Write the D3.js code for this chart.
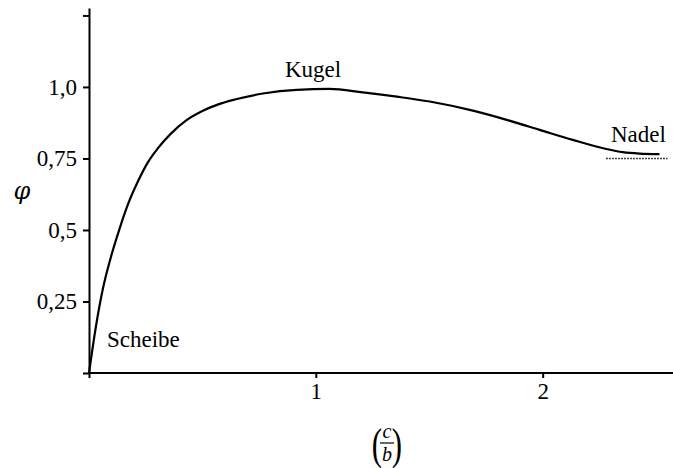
<!DOCTYPE html>
<html>
<head>
<meta charset="utf-8">
<script src="https://cdn.jsdelivr.net/npm/d3@7"></script>
<style>
  body { margin: 0; background: #fff; }
</style>
</head>
<body>
<div id="chart"></div>
<script>
// curve: phi against (c/b)
var ratio = [0, 0.03, 0.06, 0.1, 0.135, 0.172, 0.216, 0.26, 0.304, 0.36, 0.43, 0.5, 0.57, 0.643, 0.767, 0.916, 1.06, 1.207, 1.357, 1.502, 1.692, 1.841, 1.987, 2.132, 2.28, 2.353, 2.427, 2.515];
var phi = [0, 0.16, 0.29, 0.415, 0.505, 0.59, 0.67, 0.737, 0.786, 0.836, 0.884, 0.916, 0.939, 0.956, 0.977, 0.99, 0.993, 0.981, 0.966, 0.949, 0.917, 0.885, 0.85, 0.815, 0.783, 0.772, 0.767, 0.765];
var nadelLimit = [2.28, 2.55]; // dotted asymptote at 0.75
var nadelValue = 0.75;

var xTicks = [0, 1, 2];
var xTickLabels = ["", "1", "2"];
var yTicks = [0, 0.25, 0.5, 0.75, 1, 1.25];
var yTickLabels = ["", "0,25", "0,5", "0,75", "1,0", ""];

var width = 673, height = 468;
var font = "Liberation Serif";

var svg = d3.select("#chart").append("svg")
  .attr("width", width)
  .attr("height", height);

var x = d3.scaleLinear().domain([0, 2.57]).range([89, 672]);
var y = d3.scaleLinear().domain([0, 1.276]).range([373, 8]);

// axes
var xAxis = d3.axisBottom(x)
  .tickValues(xTicks)
  .tickSize(5)
  .tickPadding(5)
  .tickSizeOuter(0)
  .tickFormat(function(d, i) { return xTickLabels[i]; });

var yAxis = d3.axisLeft(y)
  .tickValues(yTicks)
  .tickSize(6)
  .tickPadding(6)
  .tickSizeOuter(0)
  .tickFormat(function(d, i) { return yTickLabels[i]; });

var gx = svg.append("g").attr("transform", "translate(0," + y(0) + ")").call(xAxis);
var gy = svg.append("g").attr("transform", "translate(" + x(0) + ",0)").call(yAxis);

[gx, gy].forEach(function(g) {
  g.attr("font-family", font);
  g.select(".domain").attr("stroke", "#000").attr("stroke-width", 2);
  g.selectAll(".tick line").attr("stroke", "#000").attr("stroke-width", 2);
  g.selectAll(".tick text")
    .attr("font-family", font)
    .attr("font-size", 23);
});
gx.select(".domain").attr("d", "M" + x(0) + ",0H" + width);

// curve
var line = d3.line()
  .curve(d3.curveMonotoneX)
  .x(function(d, i) { return x(ratio[i]); })
  .y(function(d, i) { return y(phi[i]); });

svg.append("path")
  .datum(phi)
  .attr("d", line)
  .attr("fill", "none")
  .attr("stroke", "#000")
  .attr("stroke-width", 2.2);

svg.append("line")
  .attr("x1", x(nadelLimit[0]))
  .attr("x2", x(nadelLimit[1]))
  .attr("y1", y(nadelValue))
  .attr("y2", y(nadelValue))
  .attr("stroke", "#000")
  .attr("stroke-width", 1.5)
  .attr("stroke-dasharray", "1.5,1.5");

// annotations
function label(px, py, txt) {
  svg.append("text").attr("x", px).attr("y", py)
    .attr("font-family", font).attr("font-size", 23).text(txt);
}
label(285, 77, "Kugel");
label(107, 347, "Scheibe");
label(611, 142, "Nadel");

// axis titles
svg.append("text")
  .attr("x", 22).attr("y", 199)
  .attr("text-anchor", "middle")
  .attr("font-family", "DejaVu Serif")
  .attr("font-size", 24)
  .attr("font-style", "italic")
  .text("\u03C6");

var xl = svg.append("g").attr("transform", "translate(387,0)");
xl.append("text").attr("x", -10).attr("y", 459).attr("text-anchor", "middle")
  .attr("font-family", font).attr("font-size", 44)
  .attr("transform", "translate(-10,459) scale(0.7,1) translate(10,-459)")
  .text("(");
xl.append("text").attr("x", 10).attr("y", 459).attr("text-anchor", "middle")
  .attr("font-family", font).attr("font-size", 44)
  .attr("transform", "translate(10,459) scale(0.7,1) translate(-10,-459)")
  .text(")");
xl.append("text").attr("x", 0).attr("y", 438).attr("text-anchor", "middle")
  .attr("font-family", font).attr("font-size", 20).attr("font-style", "italic").text("c");
xl.append("line").attr("x1", -7).attr("x2", 7).attr("y1", 443).attr("y2", 443)
  .attr("stroke", "#000").attr("stroke-width", 1.2);
xl.append("text").attr("x", 0).attr("y", 461).attr("text-anchor", "middle")
  .attr("font-family", font).attr("font-size", 20).attr("font-style", "italic").text("b");
</script>
</body>
</html>
